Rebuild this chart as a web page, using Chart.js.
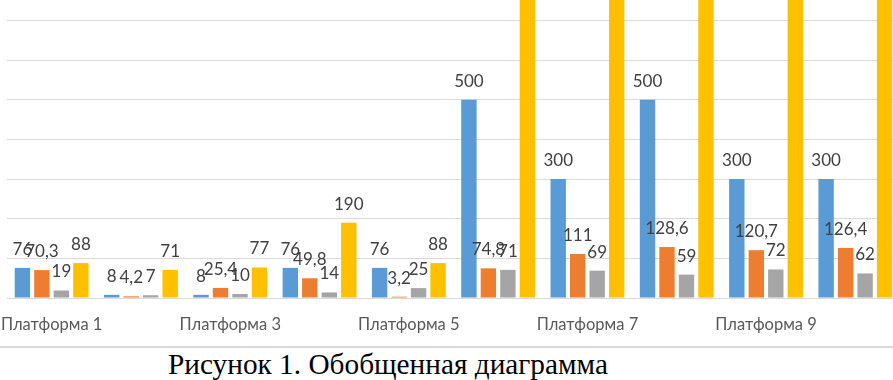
<!DOCTYPE html>
<html>
<head>
<meta charset="utf-8">
<script src="https://cdn.jsdelivr.net/npm/chart.js@4/dist/chart.umd.min.js"></script>
<style>
  html, body { margin: 0; padding: 0; background: #fff; width: 893px; height: 380px; overflow: hidden; position: relative; }
  #wrap { position: absolute; left: 0; top: 0; width: 900px; height: 346px; }
  #rule { position: absolute; left: 0; top: 346px; width: 893px; height: 0; border-top: 2px solid #d9d9d9; }
  #title { position: absolute; left: 168px; top: 349px; font-family: "Liberation Serif", "Times New Roman", serif; font-size: 29.3px; line-height: 30px; color: #000; white-space: nowrap; }
</style>
</head>
<body>
<div id="wrap"><canvas id="c"></canvas></div>
<div id="rule"></div>
<div id="title">Рисунок 1. Обобщенная диаграмма</div>
<script>
const categories = ["Платформа 1","Платформа 2","Платформа 3","Платформа 4","Платформа 5","Платформа 6","Платформа 7","Платформа 8","Платформа 9","Платформа 10"];
const seriesBlue   = [76, 8, 8, 76, 76, 500, 300, 500, 300, 300];
const seriesOrange = [70.3, 4.2, 25.4, 49.8, 3.2, 74.8, 111, 128.6, 120.7, 126.4];
const seriesGray   = [19, 7, 10, 14, 25, 71, 69, 59, 72, 62];
const seriesYellow = [88, 71, 77, 190, 88, 1000, 1000, 1000, 1000, 1000];
const yMax = 752;

const labelFont = '"Lato", "Noto Sans", sans-serif';

const valueLabels = {
  id: 'valueLabels',
  afterDatasetsDraw(chart) {
    const ctx = chart.ctx;
    ctx.save();
    ctx.font = '17px ' + labelFont;
    ctx.fillStyle = '#404040';
    ctx.textAlign = 'center';
    ctx.textBaseline = 'alphabetic';
    chart.data.datasets.forEach((ds, di) => {
      const meta = chart.getDatasetMeta(di);
      meta.data.forEach((bar, i) => {
        const v = ds.data[i];
        if (v > yMax) return;
        const txt = String(v).replace('.', ',');
        ctx.fillText(txt, bar.x, bar.y - 13);
      });
    });
    ctx.restore();
  }
};

new Chart(document.getElementById('c'), {
  type: 'bar',
  data: {
    labels: categories,
    datasets: [
      { label: 'Ряд 1', data: seriesBlue,   backgroundColor: '#5B9BD5' },
      { label: 'Ряд 2', data: seriesOrange, backgroundColor: '#ED7D31' },
      { label: 'Ряд 3', data: seriesGray,   backgroundColor: '#A5A5A5' },
      { label: 'Ряд 4', data: seriesYellow, backgroundColor: '#FFC000' }
    ]
  },
  options: {
    responsive: true,
    maintainAspectRatio: false,
    animation: false,
    datasets: { bar: { categoryPercentage: 0.873, barPercentage: 0.79 } },
    layout: { padding: { left: 7, right: 0, top: 0, bottom: 0 } },
    plugins: { legend: { display: false }, tooltip: { enabled: false } },
    scales: {
      x: {
        grid: { display: false },
        border: { display: true, color: '#d9d9d9', width: 1 },
        ticks: {
          autoSkip: false, maxRotation: 0, minRotation: 0, padding: 9,
          color: '#595959', font: { family: labelFont, size: 16.5 },
          callback: function(v, i) { return i % 2 === 0 ? categories[i] : ''; }
        },
        afterFit: function(scale) { scale.height = 48; scale.paddingLeft = 0; scale.paddingRight = 0; }
      },
      y: {
        min: 0, max: yMax,
        border: { display: false },
        grid: { color: '#d9d9d9', lineWidth: 1, drawTicks: false },
        ticks: { display: false, stepSize: 100 },
        afterBuildTicks: function(scale) { scale.ticks = scale.ticks.filter(t => t.value % 100 === 0); },
        afterFit: function(scale) { scale.width = 0; }
      }
    }
  },
  plugins: [valueLabels]
});
</script>
</body>
</html>
